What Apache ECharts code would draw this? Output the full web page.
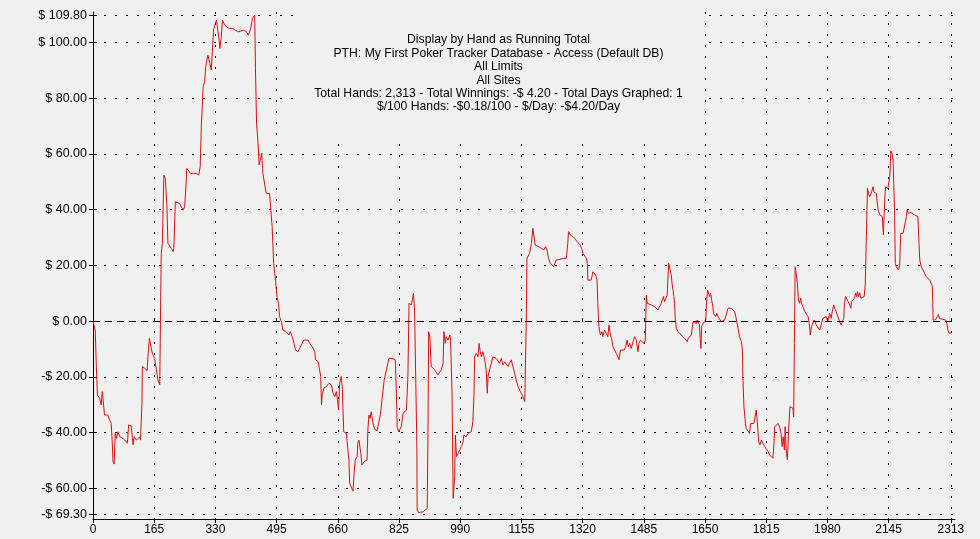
<!DOCTYPE html>
<html><head><meta charset="utf-8">
<script src="https://cdn.jsdelivr.net/npm/echarts@6/dist/echarts.min.js"></script>
<style>html,body{margin:0;padding:0;background:#f0f0f0}#c{width:980px;height:539px}</style>
</head><body><div id="c"></div>
<script>
const titleLines = [
  "Display by Hand as Running Total",
  "PTH: My First Poker Tracker Database - Access (Default DB)",
  "All Limits",
  "All Sites",
  "Total Hands: 2,313 - Total Winnings: -$ 4.20 - Total Days Graphed: 1",
  "$/100 Hands: -$0.18/100 - $/Day: -$4.20/Day"
];
const xTicks = [0,165,330,495,660,825,990,1155,1320,1485,1650,1815,1980,2145,2313];
const yTicks = [-69.3,-60,-40,-20,0,20,40,60,80,100,109.8];
const hands = [0,6,9,12,18,22,25,27,31,36,40,45,49,52,54,57,60,63,67,72,81,85,93,96,103,108,111,117,121,126,128,132,133,139,146,148,152,156,159,164,166,171,175,180,182,184,187,189,191,195,199,202,207,211,216,218,222,227,234,238,243,247,250,253,258,263,270,274,279,285,289,292,297,301,304,307,310,315,319,322,325,330,333,337,340,342,346,349,353,359,368,377,383,387,392,396,405,414,419,425,430,436,438,441,445,448,451,455,458,463,467,472,476,481,483,487,492,496,500,503,508,512,521,528,532,537,542,546,553,557,562,568,573,580,584,591,598,600,607,611,614,616,618,622,629,636,643,647,652,656,659,662,665,669,672,676,683,687,690,692,696,701,704,707,712,714,717,722,725,731,735,739,741,744,747,750,755,759,766,770,775,779,782,785,788,791,795,798,803,806,811,815,818,820,824,828,831,836,840,845,849,852,856,858,861,864,867,870,873,874,878,883,890,894,901,903,905,908,912,916,921,925,930,934,939,944,946,950,952,957,962,964,968,971,973,975,977,980,984,989,993,997,1000,1006,1011,1015,1020,1024,1027,1029,1033,1038,1041,1044,1047,1051,1056,1060,1063,1065,1069,1074,1078,1083,1087,1092,1096,1101,1105,1110,1114,1119,1123,1128,1132,1137,1141,1146,1150,1155,1159,1164,1166,1168,1170,1173,1177,1182,1186,1189,1192,1197,1204,1209,1215,1220,1224,1228,1233,1238,1242,1245,1249,1253,1258,1262,1267,1271,1276,1280,1282,1287,1292,1299,1305,1310,1314,1317,1321,1325,1330,1333,1334,1339,1343,1348,1351,1355,1359,1361,1364,1368,1372,1375,1379,1384,1388,1391,1395,1398,1402,1406,1411,1415,1418,1422,1427,1432,1436,1440,1443,1447,1451,1456,1460,1465,1469,1472,1476,1481,1485,1489,1492,1494,1499,1505,1510,1514,1519,1523,1528,1532,1538,1541,1546,1548,1552,1556,1559,1561,1564,1566,1568,1570,1573,1577,1582,1586,1591,1595,1600,1602,1605,1609,1613,1618,1620,1623,1627,1629,1632,1635,1637,1639,1641,1645,1649,1652,1654,1657,1660,1662,1665,1668,1671,1673,1676,1679,1682,1685,1689,1694,1698,1703,1707,1712,1716,1721,1725,1730,1734,1739,1743,1748,1751,1752,1755,1759,1761,1766,1770,1773,1777,1782,1786,1788,1791,1795,1798,1802,1806,1811,1815,1820,1824,1829,1833,1836,1838,1842,1847,1851,1855,1858,1861,1864,1866,1869,1872,1875,1876,1879,1883,1887,1889,1891,1893,1896,1899,1902,1905,1908,1910,1914,1919,1923,1928,1931,1934,1937,1941,1944,1946,1950,1955,1959,1963,1968,1972,1977,1981,1986,1990,1993,1997,2000,2004,2008,2013,2017,2020,2024,2026,2029,2034,2036,2040,2043,2045,2049,2053,2056,2059,2061,2064,2067,2070,2074,2079,2082,2085,2088,2091,2094,2098,2103,2105,2108,2112,2114,2117,2121,2125,2128,2131,2132,2135,2137,2141,2143,2146,2148,2150,2151,2154,2157,2159,2161,2163,2166,2169,2172,2175,2176,2178,2181,2184,2186,2189,2193,2195,2198,2202,2206,2211,2215,2220,2224,2227,2229,2233,2238,2242,2247,2251,2256,2260,2263,2265,2267,2271,2274,2276,2279,2282,2285,2290,2294,2299,2302,2305,2308,2313];
const winnings = [0,-3.2,-16.3,-26.5,-27.7,-30.1,-25.3,-27.7,-33.7,-33.1,-33.7,-35.5,-36.7,-43.8,-50.4,-51.3,-40.3,-42.1,-39.7,-41.5,-42.1,-42.7,-43.8,-37.3,-37.6,-44.4,-41.5,-42.7,-43.3,-41.5,-42.7,-29.5,-16.3,-16.9,-17.8,-12.8,-6.2,-6.2,-11,-10.4,-13.4,-17.5,-21.1,-22.9,2.2,24.3,27.9,39.9,52.4,51.2,42.2,27.9,27.3,26.1,24.9,26.1,42.8,42.5,42.2,41,39.8,41,47,54.8,54.2,53,53,52.4,53,52.4,55.4,69.7,84.1,85.9,91.3,93.6,95.4,92.5,90.1,97.2,104.4,106.8,108,107.4,100.8,97.8,102,108,106.8,105.6,105,105,104.4,104.4,103.8,103.4,104.4,103.8,102.6,105,108.6,109.8,90.7,71,63.8,56,55.5,60.2,53,52.4,45.8,45.2,45.8,45.2,33.9,20.7,14.7,8.8,6.4,1.6,-0.2,-3.2,-3.8,-5,-3.8,-5.6,-8,-10.4,-11,-9.8,-9.2,-6.8,-6.2,-6.8,-8,-9.2,-11,-13.9,-14.5,-13.9,-19.9,-30.1,-26.5,-24.1,-23.5,-22.3,-22.9,-25.9,-27.1,-25.3,-28,-31.9,-22.3,-19.9,-23.5,-39.7,-40.3,-40.3,-49.8,-58.2,-58.8,-61,-54.6,-49.8,-48.6,-43.8,-42.7,-47.4,-51.6,-50.4,-51,-49.8,-39.1,-33.7,-34.9,-32.5,-36.7,-38.8,-39.3,-39.1,-33.5,-28.3,-24.7,-21.1,-20.5,-17.5,-15.1,-13.4,-12.8,-13.4,-12.8,-13.9,-25.9,-37.9,-39.7,-39.1,-37.9,-33.1,-32.5,-31.9,-19.9,6.4,7,5.8,7.6,10,4,-19.9,-43.8,-67.8,-68.7,-69.2,-68.4,-67.8,-67.2,-41.5,-3.8,-5.6,-16.3,-16.9,-17.5,-18.1,-19.3,-18.7,-17.5,-15.1,-3.8,-8,-5.6,-6.8,-5,-6.8,-25.9,-63.6,-64.2,-55.8,-40.9,-48.6,-48,-46.2,-44.9,-43.8,-40.9,-41.5,-40.3,-40.9,-39.7,-36.1,-27.1,-12.8,-11.6,-12.8,-8,-11,-12.8,-11,-13.9,-17.5,-25.9,-19.9,-17.5,-15.1,-12.8,-12.8,-13.4,-13.9,-15.1,-13.4,-15.8,-14.6,-15.1,-16.3,-15.1,-13.9,-16.3,-18.7,-21.1,-23.5,-24.7,-25.3,-27.1,-28.9,-29.5,-0.8,22.5,22.5,24.3,27.9,33.3,30.3,27.3,26.7,26.5,26.1,25.5,26.7,25.5,22.5,20.7,20.1,19.5,20.7,21.9,21.3,22.1,21.9,22.5,23.1,22.5,27.9,32.1,30.9,30.3,29.7,28.5,27.9,27.3,26.1,24.3,23.7,22.5,20.7,14.7,14.1,14.7,17.7,17.7,16.5,14.7,6.4,-2,-5,-3.8,-5.6,-3.2,-4.4,-5.6,-1.4,-5,-6.2,-9.2,-10.4,-11.6,-12.8,-13.9,-10.4,-9.8,-10.4,-9.2,-6.8,-9.2,-8,-9.8,-7.4,-5.6,-6.8,-11,-8,-6.8,-7.4,-8,-6.8,9.3,6.4,6.4,5.8,5.8,5.2,4.6,4,4.6,6.4,8.8,7,6.4,9.3,20.7,20.1,16.5,13.6,11.1,8.8,6.4,0.4,-2.6,-3.8,-4.4,-5,-5.6,-6.2,-6.8,-7.4,-6.2,-6.2,-5,-0.2,0.4,-0.2,-0.8,0.4,1,-1.4,-6.2,-9.8,-2,-0.8,-0.2,0.4,6.4,11.1,11.1,8.8,10,10,5.2,2.8,2.2,1.6,2.8,1.6,1,-0.2,-0.2,0.4,2.2,4.6,5.2,4.6,4.2,3.4,1,-2.6,-5.6,-7.4,-10.4,-19.9,-30.7,-36.7,-38.5,-39.1,-40.3,-36.7,-37.3,-36.7,-36.7,-31.9,-36.1,-43.3,-44.4,-42.7,-43.8,-45,-45.6,-46.8,-48,-48.6,-49.2,-43.8,-37.9,-37.3,-36.7,-37.9,-40.3,-45,-41.5,-46.2,-37.9,-46.2,-49.8,-50.4,-37.9,-30.7,-30.7,-31.3,-34.3,-8,19.5,17.1,13.5,7.6,6.4,8.2,6.4,5.2,3.4,2.8,1.6,-0.8,-5,-2,-1.4,0.4,1,-1.4,-0.8,-3.2,-1.4,1,0.4,1.6,-0.2,2.8,1,3.4,5.8,4.6,3.4,1.6,-0.2,-1.4,-1.4,1,6.4,8.8,8.2,7,5.8,4.6,7,6.4,8.2,10,8.8,10.6,8.8,10.2,8.2,8.2,8.8,12.9,30.3,47.6,45.8,44.6,45.8,48.2,46.4,47,45.8,42.8,39.8,38.1,38.1,37.5,30.9,35.1,44.6,48.2,48.2,47.6,47,51.8,57.2,61.1,60.2,57.8,57.5,39.8,20.7,19.5,19.5,18.3,20.1,25.5,31.5,32.1,31.5,30.9,32.1,37.5,39.9,38.7,39.1,38.9,38.7,38.1,37.5,37.5,27.9,21.9,19.5,18.3,17.1,15.9,15.3,14.7,13.5,12.3,0.4,1,0.4,1,1.6,2.4,1,1,0.6,0.4,0.4,-0.8,-3.2,-4.4,-4.2];

const seriesData = hands.map((h, i) => [h, winnings[i]]);
const fmtMoney = v => (v < 0 ? '-$ ' : '$ ') + Math.abs(v).toFixed(2);
const dotted = {color: '#000', width: 1, type: [2, 9]};
const xMin = 0, xMax = 2324, yMin = -71.0, yMax = 110.9;
const gridBox = {left: 93, right: 25, top: 12, bottom: 20};
const labelFont = '"Liberation Sans", Arial, sans-serif';

const chart = echarts.init(document.getElementById('c'), null, {renderer: 'canvas'});
chart.setOption({
  animation: false,
  backgroundColor: '#f0f0f0',
  grid: [Object.assign({}, gridBox), Object.assign({}, gridBox)],
  xAxis: [{
    type: 'value', gridIndex: 0, min: xMin, max: xMax, position: 'bottom',
    axisLine: {show: true, onZero: false, lineStyle: {color: '#000', width: 1}},
    axisTick: {show: true, customValues: xTicks, length: 4, lineStyle: {color: '#000'}},
    axisLabel: {customValues: xTicks, margin: 5, color: '#000', fontSize: 12,
      fontFamily: '"Liberation Sans Narrow", "Liberation Sans", Arial, sans-serif',
      formatter: v => String(v)},
    splitLine: {show: true, lineStyle: dotted}
  }, {
    type: 'value', gridIndex: 1, min: xMin, max: xMax, position: 'bottom',
    axisLine: {show: false}, axisLabel: {show: false}, splitLine: {show: false},
    axisTick: {show: true, inside: true, length: 3, customValues: xTicks, lineStyle: {color: '#000'}}
  }],
  yAxis: [{
    type: 'value', gridIndex: 0, min: yMin, max: yMax, position: 'left',
    axisLine: {show: true, onZero: false, lineStyle: {color: '#000', width: 1}},
    axisTick: {show: true, customValues: yTicks, length: 4, lineStyle: {color: '#000'}},
    axisLabel: {customValues: yTicks, margin: 6, color: '#000', fontSize: 12.5, fontFamily: labelFont,
      formatter: fmtMoney},
    splitLine: {show: true, lineStyle: {color: yTicks.map(v => v === 0 ? 'rgba(0,0,0,0)' : '#000'), width: 1, type: [2, 9]}}
  }, {
    type: 'value', gridIndex: 1, min: yMin, max: yMax, position: 'left',
    axisLine: {show: false}, axisLabel: {show: false}, splitLine: {show: false},
    axisTick: {show: true, inside: true, length: 4, customValues: yTicks, lineStyle: {color: '#000'}}
  }],
  series: [{
    type: 'line', xAxisIndex: 0, yAxisIndex: 0, data: seriesData,
    symbol: 'none', showSymbol: false,
    lineStyle: {color: '#d81010', width: 1},
    markLine: {silent: true, symbol: 'none', label: {show: false},
      lineStyle: {color: '#000', width: 1, type: [7, 5]},
      data: [{yAxis: 0}]}
  }],
  graphic: [{
    type: 'rect', silent: true, z: 100,
    shape: {x: 294, y: 0, width: 409, height: 138},
    style: {fill: '#f0f0f0'}
  }, {
    type: 'text', silent: true, z: 101, x: 498.5, y: 33.3,
    style: {text: titleLines.join('\n'), fill: '#000', fontSize: 12.2, fontFamily: labelFont,
      align: 'center', verticalAlign: 'top', lineHeight: 13.4}
  }]
});
</script></body></html>
